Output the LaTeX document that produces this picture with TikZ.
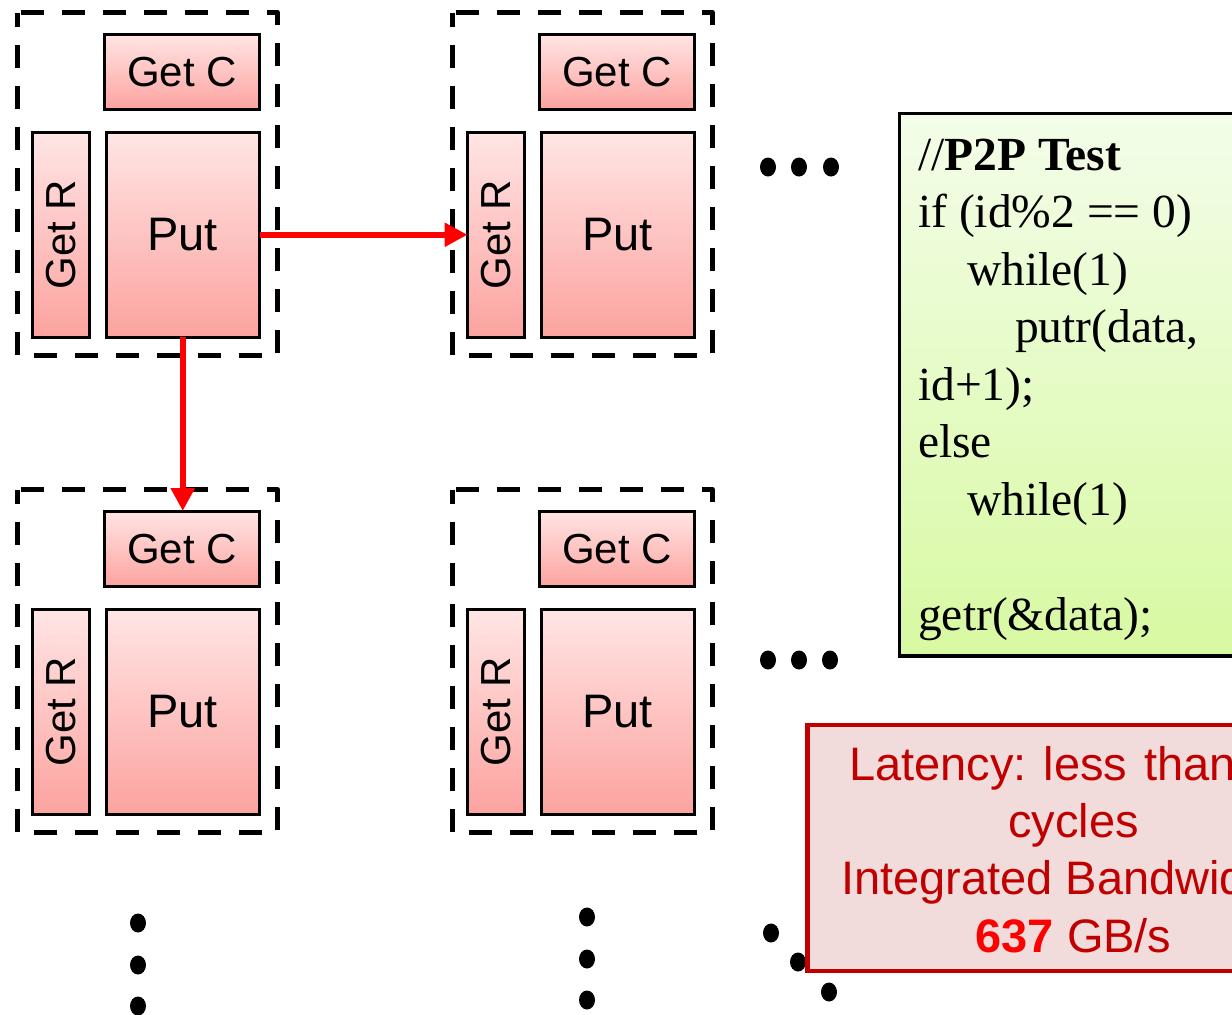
\documentclass[tikz,border=0pt]{standalone}
\usepackage{fontspec}
\setmainfont{Liberation Serif}
\setsansfont{Liberation Sans}
\usetikzlibrary{arrows.meta}

\definecolor{tiletop}{RGB}{255,229,229}
\definecolor{tilebot}{RGB}{252,163,159}
\definecolor{codetop}{RGB}{243,253,233}
\definecolor{codebot}{RGB}{216,249,162}
\definecolor{noteline}{RGB}{192,0,0}
\definecolor{notefill}{RGB}{242,220,219}
\definecolor{linkred}{RGB}{255,0,0}

\frenchspacing
\newcommand\cellfont{\sffamily\fontsize{42}{48}\selectfont}
\newcommand\bigcellfont{\sffamily\fontsize{47}{54}\selectfont}
\newcommand\codefont{\rmfamily\fontsize{47.5}{57.5}\selectfont}
\newcommand\notefont{\sffamily\fontsize{47}{57}\selectfont}

\begin{document}
\begin{tikzpicture}[x=1pt,y=-1pt,
  unitbox/.style={draw=black, line width=3pt, top color=tiletop,
    bottom color=tilebot, inner sep=0pt, outer sep=0pt},
  tileframe/.style={draw=black, line width=5pt,
    dash pattern=on 23pt off 18pt, dash phase=9pt, line join=round},
  link/.style={draw=linkred, line width=6pt,
    -{Triangle[length=23pt,width=23pt]}},
  codebox/.style={draw=black, line width=3.5pt, top color=codetop,
    bottom color=codebot, inner sep=0pt, outer sep=0pt},
  notebox/.style={draw=noteline, line width=4.5pt, fill=notefill,
    inner sep=0pt, outer sep=0pt},
  codeline/.style={anchor=base west, inner sep=0pt, font=\codefont},
  noteline/.style={inner sep=0pt, font=\notefont, text=noteline}
]
\useasboundingbox (0,0) rectangle (1232,1015);
\clip (0,0) rectangle (1232,1015);

% four processing tiles: Get C on top, Get R on the left, Put in the middle
\foreach \dx/\dy/\n in {0/0/11, 435/0/12, 0/477/21, 435/477/22} {
  \draw[tileframe] (17+\dx,12.5+\dy) rectangle (277.5+\dx,355.5+\dy);
  \node[unitbox, minimum width=155pt, minimum height=75.5pt, font=\cellfont]
    (gc-\n) at (182+\dx,71.75+\dy) {Get C};
  \node[unitbox, minimum width=153.5pt, minimum height=204.5pt, font=\bigcellfont]
    (put-\n) at (182.75+\dx,234.75+\dy) {Put};
  \node[unitbox, minimum width=57pt, minimum height=204.5pt]
    (gr-\n) at (61+\dx,234.75+\dy) {};
  \node[rotate=90, inner sep=0pt, font=\cellfont] (grl-\n) at (gr-\n) {Get R};
}

% put traffic to the right-hand and lower neighbours
\draw[link] (put-11.east) -- (gr-12.west);
\draw[link] (put-11.south) -- (put-11.south |- gc-21.north);

% continuation dots
\foreach \x/\y in {768/167, 799/167, 831/167,
                   768/660, 799/660, 830/660,
                   138/923, 138/965, 138/1006,
                   587/917, 587/959, 587/1000,
                   771/933, 798/962, 829/992}
  \fill (\x,\y) ellipse [x radius=8pt, y radius=9.5pt];

% test program
\node[codebox, anchor=north west, minimum width=420pt, minimum height=542.5pt]
  (code) at (899.5,113.5) {};
\node[codeline] (c1) at (918,170)   {//\textbf{P2P Test}};
\node[codeline] (c2) at (918,227.5) {if (id\%2 == 0)};
\node[codeline] (c3) at (967,285)   {while(1)};
\node[codeline] (c4) at (1015,342.5) {putr(data,};
\node[codeline] (c5) at (918,400)   {id+1);};
\node[codeline] (c6) at (918,457.5) {else};
\node[codeline] (c7) at (967,515)   {while(1)};
\node[codeline] (c8) at (918,630)   {getr(\&data);};

% measured results
\node[notebox, anchor=north west, minimum width=600pt, minimum height=246pt]
  (note) at (807.5,725) {};
\node[noteline, anchor=base west] (n1) at (849,780)
  {\spaceskip=17pt Latency: less than};
\node[noteline, anchor=base] (n2) at (1073.5,837) {cycles};
\node[noteline, anchor=base west] (n3) at (841,894) {Integrated Bandwidth};
\node[noteline, anchor=base] (n4) at (1073.5,952)
  {\textcolor{linkred}{\textbf{637}} GB/s};
\end{tikzpicture}
\end{document}
